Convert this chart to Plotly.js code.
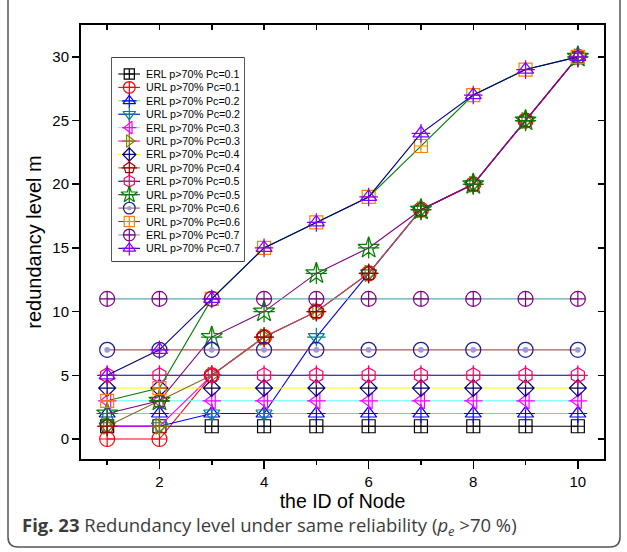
<!DOCTYPE html>
<html><head><meta charset="utf-8">
<script src="https://cdn.plot.ly/plotly-3.0.1.min.js"></script>
<style>html,body{margin:0;padding:0;background:#fff;}#chart{width:627px;height:552px;}</style>
</head><body><div id="chart"></div>
<script>
// ---------------- data ----------------
const nodeIds = [1, 2, 3, 4, 5, 6, 7, 8, 9, 10];
const seriesNames = [
  'ERL p>70% Pc=0.1', 'URL p>70% Pc=0.1',
  'ERL p>70% Pc=0.2', 'URL p>70% Pc=0.2',
  'ERL p>70% Pc=0.3', 'URL p>70% Pc=0.3',
  'ERL p>70% Pc=0.4', 'URL p>70% Pc=0.4',
  'ERL p>70% Pc=0.5', 'URL p>70% Pc=0.5',
  'ERL p>70% Pc=0.6', 'URL p>70% Pc=0.6',
  'ERL p>70% Pc=0.7', 'URL p>70% Pc=0.7'
];
const erl01 = [1, 1, 1, 1, 1, 1, 1, 1, 1, 1];
const url01 = [0, 0, 5, 8, 10, 13, 18, 20, 25, 30];
const erl02 = [2, 2, 2, 2, 2, 2, 2, 2, 2, 2];
const url02 = [1, 1, 2, 2, 8, 13, 18, 20, 25, 30];
const erl03 = [3, 3, 3, 3, 3, 3, 3, 3, 3, 3];
const url03 = [1, 1, 5, 8, 10, 13, 18, 20, 25, 30];
const erl04 = [4, 4, 4, 4, 4, 4, 4, 4, 4, 4];
const url04 = [1, 3, 5, 8, 10, 13, 18, 20, 25, 30];
const erl05 = [5, 5, 5, 5, 5, 5, 5, 5, 5, 5];
const url05 = [2, 3, 8, 10, 13, 15, 18, 20, 25, 30];
const erl06 = [7, 7, 7, 7, 7, 7, 7, 7, 7, 7];
const url06 = [3, 4, 11, 15, 17, 19, 23, 27, 29, 30];
const erl07 = [11, 11, 11, 11, 11, 11, 11, 11, 11, 11];
const url07 = [5, 7, 11, 15, 17, 19, 24, 27, 29, 30];
const seriesValues = [erl01, url01, erl02, url02, erl03, url03, erl04, url04,
                      erl05, url05, erl06, url06, erl07, url07];
const xTitle = 'the ID of Node';
const yTitle = 'redundancy level m';
const captionText = '<b>Fig. 23</b> Redundancy level under same reliability (<i>p<sub>e</sub></i> &gt;70 %)';

// ---------------- styles ----------------
const styles = [
  {line:'#000000', mk:'#000000', sym:'square-cross-open', size:13},
  {line:'#ff0000', mk:'#ff0000', sym:'circle-cross-open', size:15},
  {line:'#5cf05c', mk:'#0000ff', sym:'triangle-up-open', size:14, cross:true},
  {line:'#0000ff', mk:'#008080', sym:'triangle-down-open', size:14, cross:true},
  {line:'#5cffff', mk:'#ff00ff', sym:'triangle-left-open', size:14, cross:true},
  {line:'#ff00ff', mk:'#808000', sym:'triangle-right-open', size:14, cross:true},
  {line:'#ffff00', mk:'#000080', sym:'diamond-cross-open', size:13},
  {line:'#8a6a2a', mk:'#990000', sym:'pentagon-open', size:15, cross:true},
  {line:'#000080', mk:'#ff0066', sym:'hexagon-open', size:15, cross:true},
  {line:'#800080', mk:'#008000', sym:'star-open', size:16, cross:true},
  {line:'#a85a5a', mk:'#1a1aa0', sym:'circle-open', size:15, sphere:true},
  {line:'#008000', mk:'#ff8000', sym:'square-cross-open', size:13},
  {line:'#5fabab', mk:'#800080', sym:'circle-cross-open', size:15},
  {line:'#000080', mk:'#8000ff', sym:'triangle-up-open', size:14, cross:true}
];

// ---------------- geometry ----------------
const W = 627, H = 552, ML = 81, MR = 23, MT = 25, MB = 93;
const plotW = W - ML - MR, plotH = H - MT - MB;
const pxX = px => (px - ML) / plotW;
const pxY = py => (H - MB - py) / plotH;
const LEG = {left:112, right:244, top:58, bottom:261, row0:16, rowGap:13.41,
             lineX0:6.3, lineX1:28, markX:17.3, textX:31.5, scale:0.78};

const traces = [];
function addSeries(xs, ys, st, xa, ya, scale, lineX) {
  const sz = st.size * scale;
  if (lineX) {
    traces.push({x: lineX, y: [ys[0], ys[0]], xaxis: xa, yaxis: ya, mode: 'lines',
      line: {color: st.line, width: 1.1}, hoverinfo: 'skip'});
  }
  traces.push({x: xs, y: ys, xaxis: xa, yaxis: ya,
    mode: lineX ? 'markers' : 'lines+markers',
    line: {color: st.line, width: 1.1},
    marker: {symbol: st.sym, size: sz, color: st.mk, line: {color: st.mk, width: 1.2}},
    hoverinfo: 'skip'});
  if (st.cross) {
    traces.push({x: xs, y: ys, xaxis: xa, yaxis: ya, mode: 'markers',
      marker: {symbol: 'cross-thin-open', size: sz * 0.95, color: st.mk, line: {color: st.mk, width: 1.2}},
      hoverinfo: 'skip'});
  }
  if (st.sphere) {
    traces.push({x: xs, y: ys, xaxis: xa, yaxis: ya, mode: 'markers',
      marker: {symbol: 'circle', size: sz * 0.38, color: '#9a9ade', line: {width: 0}},
      hoverinfo: 'skip'});
  }
}

seriesValues.forEach((vals, i) => addSeries(nodeIds, vals, styles[i], 'x', 'y', 1, null));

// legend (custom, drawn in its own small axes box)
const annotations = [];
seriesNames.forEach((name, i) => {
  const ry = LEG.row0 + i * LEG.rowGap;
  addSeries([LEG.markX], [ry], styles[i], 'x3', 'y3', LEG.scale, [LEG.lineX0, LEG.lineX1]);
  annotations.push({text: name, x: LEG.textX, y: ry, xref: 'x3', yref: 'y3',
    xanchor: 'left', yanchor: 'middle', showarrow: false,
    font: {size: 10.7, family: 'Liberation Sans, Arial, sans-serif', color: '#000'}});
});

annotations.push({text: captionText, xref: 'paper', yref: 'paper',
  x: pxX(20), y: pxY(526), xanchor: 'left', yanchor: 'middle', showarrow: false,
  font: {size: 18.5, family: 'Open Sans, sans-serif', color: '#3c3c3c'}});

const yRange = [-1.57, 32.5];
const xRange = [0.5, 10.5];
const axFont = {size: 15, family: 'Liberation Sans, Arial, sans-serif', color: '#000'};

const framePath = `M ${pxX(8)},${pxY(-5)} L ${pxX(8)},${pxY(537)} Q ${pxX(8)},${pxY(547)} ${pxX(18)},${pxY(547)} ` +
  `L ${pxX(610)},${pxY(547)} Q ${pxX(620)},${pxY(547)} ${pxX(620)},${pxY(537)} L ${pxX(620)},${pxY(-5)}`;

const layout = {
  width: W, height: H,
  margin: {l: ML, r: MR, t: MT, b: MB, pad: 0},
  paper_bgcolor: '#fff', plot_bgcolor: '#fff',
  showlegend: false, hovermode: false,
  font: {family: 'Liberation Sans, Arial, sans-serif', color: '#000'},
  xaxis: {range: xRange, tick0: 0, dtick: 2, ticks: 'outside', ticklen: 8, tickwidth: 1.5,
    tickcolor: '#000', showline: true, linewidth: 2, linecolor: '#000', showgrid: false,
    zeroline: false, tickfont: axFont, fixedrange: true,
    minor: {dtick: 1, tick0: 0, ticks: 'outside', ticklen: 4, tickwidth: 1.5, tickcolor: '#000', showgrid: false},
    title: {text: xTitle, font: {size: 19.5, family: 'Liberation Sans, Arial, sans-serif'}, standoff: 1}},
  yaxis: {range: yRange, tick0: 0, dtick: 5, ticks: 'outside', ticklen: 7, tickwidth: 1.5,
    tickcolor: '#000', showline: true, linewidth: 2, linecolor: '#000', showgrid: false,
    zeroline: false, tickfont: axFont, fixedrange: true,
    title: {text: yTitle, font: {size: 20, family: 'Liberation Sans, Arial, sans-serif'}, standoff: 5}},
  xaxis2: {overlaying: 'x', side: 'top', anchor: 'y', range: xRange, tick0: 0, dtick: 1,
    ticks: 'inside', ticklen: 5, tickwidth: 1.5, tickcolor: '#000', showticklabels: false,
    showline: true, linewidth: 2, linecolor: '#000', showgrid: false, zeroline: false, fixedrange: true},
  yaxis2: {overlaying: 'y', side: 'right', anchor: 'x', range: yRange, tick0: 0, dtick: 5,
    ticks: 'inside', ticklen: 6, tickwidth: 1.5, tickcolor: '#000', showticklabels: false,
    showline: true, linewidth: 2, linecolor: '#000', showgrid: false, zeroline: false, fixedrange: true},
  xaxis3: {domain: [pxX(LEG.left), pxX(LEG.right)], anchor: 'y3', range: [0, LEG.right - LEG.left],
    visible: false, fixedrange: true},
  yaxis3: {domain: [pxY(LEG.bottom), pxY(LEG.top)], anchor: 'x3', range: [LEG.bottom - LEG.top, 0],
    visible: false, fixedrange: true},
  shapes: [
    {type: 'rect', xref: 'x3 domain', yref: 'y3 domain', x0: 0, x1: 1, y0: 0, y1: 1,
     fillcolor: '#fff', line: {color: '#000', width: 1.3}, layer: 'below'},
    {type: 'path', xref: 'paper', yref: 'paper', path: framePath,
     line: {color: '#555', width: 1.5}, layer: 'above'}
  ],
  annotations: annotations
};

traces.push({x: [], y: [], xaxis: 'x2', yaxis: 'y', hoverinfo: 'skip', showlegend: false});
traces.push({x: [], y: [], xaxis: 'x', yaxis: 'y2', hoverinfo: 'skip', showlegend: false});

Plotly.newPlot('chart', traces, layout, {staticPlot: true, displayModeBar: false});
</script></body></html>
